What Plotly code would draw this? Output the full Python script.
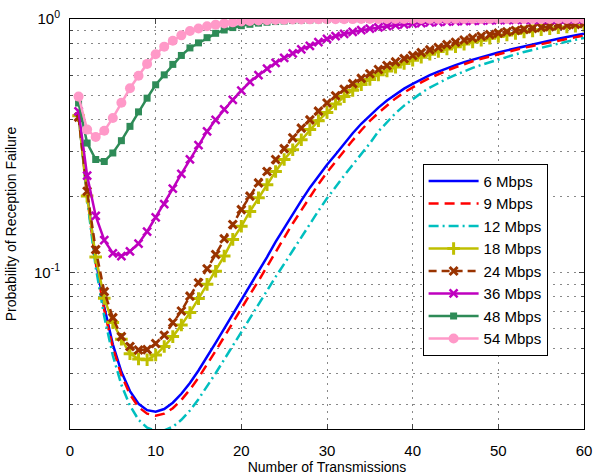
import plotly.graph_objects as go
import math

x = list(range(1, 61))

p6 = [0.420, 0.205, 0.112, 0.073, 0.052, 0.0405, 0.0340, 0.0303, 0.0286, 0.0282,
      0.0289, 0.0306, 0.0332, 0.0366, 0.0410, 0.0463, 0.0527, 0.0600, 0.0684, 0.0778,
      0.0880, 0.1000, 0.1150, 0.1320, 0.150, 0.170, 0.192, 0.216, 0.241, 0.266,
      0.292, 0.322, 0.354, 0.386, 0.417, 0.447, 0.477, 0.505, 0.531, 0.555,
      0.578, 0.600, 0.620, 0.640, 0.658, 0.676, 0.692, 0.708, 0.723, 0.738,
      0.752, 0.766, 0.780, 0.793, 0.810, 0.823, 0.836, 0.849, 0.862, 0.875]

p9 = [0.420, 0.200, 0.109, 0.071, 0.0505, 0.0393, 0.0330, 0.0294, 0.0277, 0.0272,
      0.0277, 0.0291, 0.0314, 0.0345, 0.0384, 0.0432, 0.0490, 0.0557, 0.0635, 0.0722,
      0.0818, 0.0925, 0.1050, 0.1200, 0.1370, 0.1560, 0.1760, 0.1990, 0.2230, 0.2480,
      0.2740, 0.3010, 0.3320, 0.3640, 0.3960, 0.4260, 0.4560, 0.4860, 0.5130, 0.5380,
      0.5620, 0.5850, 0.6060, 0.6260, 0.6450, 0.6640, 0.6810, 0.6970, 0.7120, 0.7270,
      0.7420, 0.7560, 0.7700, 0.7830, 0.7960, 0.8090, 0.8220, 0.8350, 0.8480, 0.8610]

p12 = [0.420, 0.195, 0.105, 0.067, 0.0470, 0.0360, 0.0298, 0.0262, 0.0244, 0.0237,
       0.0238, 0.0246, 0.0262, 0.0285, 0.0316, 0.0354, 0.0400, 0.0453, 0.0514, 0.0583,
       0.0662, 0.0750, 0.0848, 0.0960, 0.1080, 0.1220, 0.1380, 0.1560, 0.1750, 0.1960,
       0.2180, 0.2410, 0.2660, 0.2920, 0.3230, 0.3600, 0.3930, 0.4250, 0.4550, 0.4840,
       0.5110, 0.5360, 0.5590, 0.5810, 0.6020, 0.6220, 0.6410, 0.6590, 0.6760, 0.6930,
       0.7090, 0.7250, 0.7410, 0.7560, 0.7710, 0.7860, 0.8000, 0.8140, 0.8280, 0.8420]

p18 = [0.415, 0.200, 0.115, 0.079, 0.0634, 0.0545, 0.0478, 0.0455, 0.0452, 0.0472,
       0.0510, 0.0558, 0.0620, 0.0694, 0.0788, 0.0897, 0.1010, 0.1160, 0.1350, 0.1520,
       0.1740, 0.1970, 0.2220, 0.2500, 0.2790, 0.3050, 0.3340, 0.3660, 0.3970, 0.4280,
       0.4620, 0.4940, 0.5230, 0.5510, 0.5770, 0.6020, 0.6240, 0.6460, 0.6670, 0.6870,
       0.7070, 0.7260, 0.7440, 0.7610, 0.7780, 0.7960, 0.8110, 0.8250, 0.8400, 0.8530,
       0.8650, 0.8770, 0.8880, 0.8980, 0.9070, 0.9150, 0.9230, 0.9300, 0.9370, 0.9430]

p24 = [0.410, 0.209, 0.123, 0.084, 0.0663, 0.0558, 0.0510, 0.0494, 0.0496, 0.0524,
       0.0565, 0.0634, 0.0704, 0.0806, 0.0910, 0.1034, 0.1177, 0.1358, 0.1545, 0.1770,
       0.2000, 0.2255, 0.2500, 0.2790, 0.3080, 0.3400, 0.3710, 0.4000, 0.4330, 0.4660,
       0.4980, 0.5280, 0.5560, 0.5830, 0.6080, 0.6320, 0.6550, 0.6770, 0.6980, 0.7180,
       0.7370, 0.7550, 0.7720, 0.7920, 0.8100, 0.8260, 0.8410, 0.8550, 0.8680, 0.8800,
       0.8910, 0.9010, 0.9100, 0.9180, 0.9260, 0.9330, 0.9400, 0.9460, 0.9520, 0.9580]

p36 = [0.432, 0.241, 0.167, 0.134, 0.119, 0.116, 0.121, 0.130, 0.145, 0.165,
       0.186, 0.214, 0.245, 0.279, 0.318, 0.360, 0.400, 0.440, 0.480, 0.522,
       0.565, 0.600, 0.637, 0.671, 0.703, 0.732, 0.759, 0.784, 0.810, 0.835,
       0.855, 0.873, 0.889, 0.903, 0.916, 0.927, 0.937, 0.946, 0.953, 0.959,
       0.964, 0.969, 0.973, 0.976, 0.979, 0.982, 0.984, 0.986, 0.988, 0.989,
       0.990, 0.991, 0.992, 0.993, 0.994, 0.995, 0.995, 0.996, 0.996, 0.997]

p48 = [0.466, 0.324, 0.279, 0.274, 0.296, 0.331, 0.377, 0.430, 0.487, 0.550,
       0.602, 0.662, 0.718, 0.769, 0.805, 0.844, 0.878, 0.905, 0.925, 0.941,
       0.953, 0.963, 0.971, 0.977, 0.982, 0.986, 0.989, 0.991, 0.993, 0.9945,
       0.9957, 0.9966, 0.9974, 0.9980, 0.9984, 0.9988, 0.9990, 0.9992, 0.9994, 0.9995,
       0.9996, 0.9997, 0.9997, 0.9998, 0.9998, 0.9998, 0.9999, 0.9999, 0.9999, 0.9999,
       0.9999, 0.9999, 0.9999, 0.9999, 0.9999, 0.9999, 0.9999, 0.9999, 0.9999, 0.9999]

p54 = [0.494, 0.366, 0.342, 0.362, 0.407, 0.467, 0.533, 0.597, 0.665, 0.726,
       0.778, 0.821, 0.862, 0.897, 0.918, 0.936, 0.950, 0.961, 0.970, 0.977,
       0.982, 0.986, 0.989, 0.9915, 0.9934, 0.9949, 0.9960, 0.9969, 0.9976, 0.9981,
       0.9985, 0.9988, 0.9991, 0.9993, 0.9994, 0.9995, 0.9996, 0.9997, 0.9997, 0.9998,
       0.9998, 0.9998, 0.9999, 0.9999, 0.9999, 0.9999, 0.9999, 0.9999, 0.9999, 0.9999,
       0.9999, 0.9999, 0.9999, 0.9999, 0.9999, 0.9999, 0.9999, 0.9999, 0.9999, 0.9999]

names = ["6 Mbps", "9 Mbps", "12 Mbps", "18 Mbps", "24 Mbps", "36 Mbps", "48 Mbps", "54 Mbps"]
x_ticks = [0, 10, 20, 30, 40, 50, 60]
y_ticks = [0.1, 1]
y_tick_text = ["10<sup>-1</sup>", "10<sup>0</sup>"]
y_minor = [0.03, 0.04, 0.05, 0.06, 0.07, 0.08, 0.09, 0.2, 0.3, 0.4, 0.5, 0.6, 0.7, 0.8, 0.9]

fig = go.Figure()

def add(y, name, color, dash="solid", marker=None):
    kw = dict(x=x, y=y, name=name, line=dict(color=color, width=2.5, dash=dash))
    if marker is None:
        kw["mode"] = "lines"
    else:
        kw["mode"] = "lines+markers"
        kw["marker"] = marker
    fig.add_trace(go.Scatter(**kw))

add(p6, names[0], "#0000ff")
add(p9, names[1], "#ff0000", dash="10px,6px")
add(p12, names[2], "#00bfbf", dash="10px,4px,2px,4px")
add(p18, names[3], "#bfbf00", marker=dict(symbol="cross-thin", size=9, color="#bfbf00",
                                          line=dict(color="#bfbf00", width=3)))
add(p24, names[4], "#993300", dash="8px,5px", marker=dict(symbol="x-thin", size=8, color="#993300",
                                                           line=dict(color="#993300", width=3)))
add(p36, names[5], "#bf00bf", marker=dict(symbol="x-thin", size=8, color="#bf00bf",
                                          line=dict(color="#bf00bf", width=2.5)))
add(p48, names[6], "#2e8b57", marker=dict(symbol="square", size=7, color="#2e8b57"))
add(p54, names[7], "#ff99c8", marker=dict(symbol="circle", size=10, color="#ff99c8"))

font = "Liberation Sans, Arial, sans-serif"
grid = dict(showgrid=True, gridcolor="#888", griddash="2px,5px", gridwidth=1)
fig.update_layout(
    width=599, height=476,
    margin=dict(l=70, r=7, t=19, b=46),
    paper_bgcolor="white", plot_bgcolor="white",
    font=dict(family=font, size=14, color="black"),
    showlegend=True,
    legend=dict(x=0.686, y=0.647, xanchor="left", yanchor="top",
                bgcolor="white", bordercolor="black", borderwidth=1,
                font=dict(size=15), itemwidth=50, tracegroupgap=0),
    xaxis=dict(range=[0, 60], tickvals=x_ticks, ticks="inside", ticklen=5,
               showline=True, linecolor="black", linewidth=1, mirror="ticks",
               zeroline=False, tickfont=dict(size=15), ticklabelstandoff=8,
               ticklabeloverflow="allow",
               title=dict(text="Number of Transmissions", font=dict(size=14), standoff=0),
               **grid),
    yaxis=dict(type="log", range=[math.log10(0.0241), 0], tickvals=y_ticks, ticktext=y_tick_text,
               ticks="inside", ticklen=5, showline=True, linecolor="black", linewidth=1,
               mirror="ticks", zeroline=False, tickfont=dict(size=15), ticklabelstandoff=6,
               ticklabeloverflow="allow",
               minor=dict(tickmode="array", tickvals=y_minor, ticks="inside", ticklen=3,
                          **grid),
               title=dict(text="Probability of Reception Failure", font=dict(size=14), standoff=14),
               **grid),
)

fig.write_html("out.html")
